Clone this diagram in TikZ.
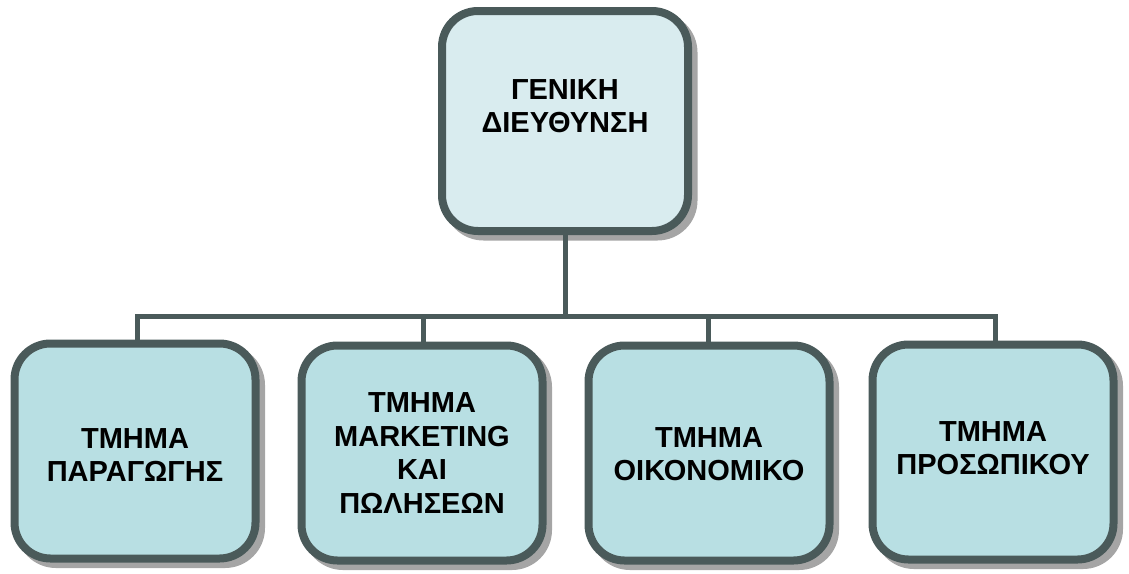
\documentclass[tikz,border=0pt]{standalone}
\usepackage{fontspec}
\setmainfont{Liberation Sans}
\usetikzlibrary{calc}
\definecolor{edge}{RGB}{74,90,90}
\definecolor{headfill}{RGB}{217,236,239}
\definecolor{deptfill}{RGB}{184,223,227}
\definecolor{shade}{RGB}{165,165,165}
\tikzset{
  x=1pt, y=-1pt,
  box/.style={draw=edge, line width=8pt, rounded corners=36pt,
    minimum width=241pt, inner sep=0pt,
    preaction={fill=shade, draw=shade, transform canvas={shift={(5.5pt,-5.5pt)}}}},
  head/.style={box, fill=headfill, minimum width=246pt, minimum height=220pt},
  dept/.style={box, fill=deptfill, minimum height=215pt},
  lbl/.style={align=center, font=\fontsize{29}{33.5}\selectfont\bfseries, inner sep=0pt},
  link/.style={draw=edge, line width=5pt}
}
\begin{document}
\begin{tikzpicture}
\useasboundingbox (0,0) rectangle (1129,573);
% boxes
\node[head] (gd) at (565,121) {};
\node[dept] (d1) at (135,451) {};
\node[dept] (d2) at (422,453) {};
\node[dept] (d3) at (709,453) {};
\node[dept] (d4) at (993,452) {};
% connectors: trunk, bus and drops
\coordinate (bus) at (565,316);
\coordinate (b1) at (137,316);
\coordinate (b2) at (423,316);
\coordinate (b3) at (708,316);
\coordinate (b4) at (995,316);
\draw[link] (gd.south) -- (bus);
\draw[link, line cap=rect] (b1) -- (b4);
\draw[link] (b1) -- (b1 |- d1.north);
\draw[link] (b2) -- (b2 |- d2.north);
\draw[link] (b3) -- (b3 |- d3.north);
\draw[link] (b4) -- (b4 |- d4.north);
% labels
\node[lbl] (t0) at (565,106) {ΓΕΝΙΚΗ\\ΔΙΕΥΘΥΝΣΗ};
\node[lbl] (t1) at (135,455) {ΤΜΗΜΑ\\ΠΑΡΑΓΩΓΗΣ};
\node[lbl] (t2) at (422,453) {ΤΜΗΜΑ\\MARKETING\\ΚΑΙ\\ΠΩΛΗΣΕΩΝ};
\node[lbl] (t3) at (709,454) {ΤΜΗΜΑ\\ΟΙΚΟΝΟΜΙΚΟ};
\node[lbl] (t4) at (993,448) {ΤΜΗΜΑ\\ΠΡΟΣΩΠΙΚΟΥ};
\end{tikzpicture}
\end{document}
